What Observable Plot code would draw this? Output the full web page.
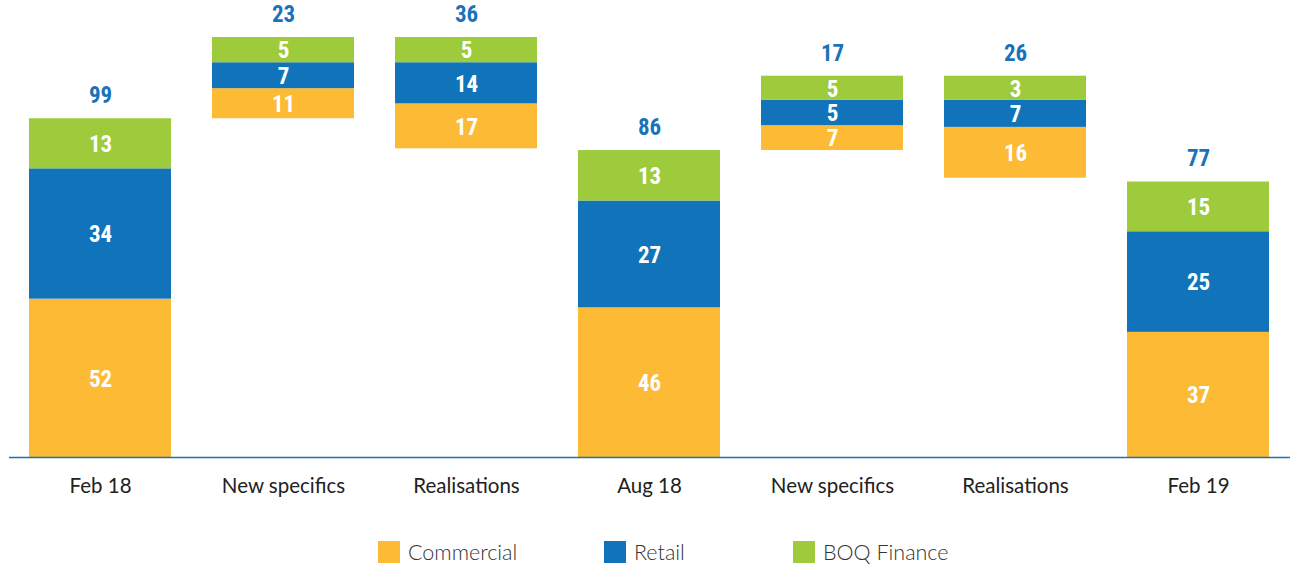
<!DOCTYPE html>
<html>
<head>
<meta charset="utf-8">
<script src="https://cdn.jsdelivr.net/npm/d3@7"></script>
<script src="https://cdn.jsdelivr.net/npm/@observablehq/plot@0.6"></script>
<style>
  html, body { margin: 0; padding: 0; background: #fff; }
  #chart { width: 1290px; }
  #chart svg g[aria-label="text"] text { font-stretch: condensed; }
  .legend { position: relative; height: 49px; font-family: Lato, "Noto Sans", sans-serif; font-size: 21.5px; font-weight: 300; color: #333; }
  .legend .item { position: absolute; top: 21px; display: flex; align-items: center; height: 22px; }
  .legend .sw { width: 22px; height: 22px; margin-right: 8px; }
</style>
</head>
<body>
<div id="chart"></div>
<script>
const categories = ["Feb 18", "New specifics", "Realisations", "Aug 18", "New specifics", "Realisations", "Feb 19"];
const barKinds = ["total", "increase", "decrease", "total", "increase", "decrease", "total"];
const seriesNames = ["Commercial", "Retail", "BOQ Finance"];
// labelled values
const commercial = [52, 11, 17, 46, 7, 16, 37];
const retail = [34, 7, 14, 27, 5, 7, 25];
const boqFinance = [13, 5, 5, 13, 5, 3, 15];
const totals = [99, 23, 36, 86, 17, 26, 77];
// segment sizes as drawn in the picture
const commercialDrawn = [45.8, 8.7, 13.0, 43.3, 7.2, 14.7, 36.2];
const retailDrawn = [37.7, 7.5, 11.9, 30.9, 7.3, 7.8, 29.1];
const boqDrawn = [14.5, 7.3, 7.3, 14.6, 7.0, 7.0, 14.4];
const colors = ["#FDBA35", "#1174BB", "#9DCB3B"];

const labelValues = [commercial, retail, boqFinance];
const drawnValues = [commercialDrawn, retailDrawn, boqDrawn];
const rows = [];
const totalRows = [];
let level = 0;
categories.forEach((c, i) => {
  const size = d3.sum(drawnValues, arr => arr[i]);
  let base;
  if (barKinds[i] === "total") { base = 0; level = size; }
  else if (barKinds[i] === "increase") { base = level; level += size; }
  else { base = level - size; level -= size; }
  let cum = base;
  seriesNames.forEach((s, k) => {
    const v = drawnValues[k][i];
    rows.push({i, series: s, value: labelValues[k][i], y1: cum, y2: cum + v});
    cum += v;
  });
  totalRows.push({i, value: totals[i], top: cum});
});
const yMax = d3.max(totalRows, d => d.top);

const numFont = '"Roboto Condensed", "Liberation Sans Narrow", "DejaVu Sans", sans-serif';

const plot = Plot.plot({
  width: 1290,
  height: 520,
  marginLeft: 9,
  marginRight: 0,
  marginTop: 37,
  marginBottom: 63,
  style: {fontFamily: 'Lato, "Noto Sans", sans-serif', fontSize: "20px", color: "#222", background: "#fff"},
  x: {domain: d3.range(categories.length), range: [8.5, 1289.5], paddingInner: 0.224, paddingOuter: 0.112, axis: null},
  y: {domain: [0, yMax], axis: null},
  color: {domain: seriesNames, range: colors},
  marks: [
    Plot.barY(rows, {x: "i", y1: "y1", y2: "y2", fill: "series"}),
    Plot.text(rows, {x: "i", y: d => (d.y1 + d.y2) / 2, text: d => String(d.value), fill: "white",
      fontSize: 23, fontWeight: "bold", fontFamily: numFont, dy: 1}),
    Plot.text(totalRows, {x: "i", y: "top", text: d => String(d.value), fill: "#1A73B8",
      fontSize: 23, fontWeight: "bold", fontFamily: numFont, dy: -23}),
    Plot.ruleY([0], {stroke: "#1F6FB5", strokeWidth: 1.6}),
    Plot.axisX({tickSize: 0, tickPadding: 20.5, label: null, tickFormat: i => categories[i], fontSize: 20.5, fill: "#222"})
  ]
});
const root = document.getElementById("chart");
root.appendChild(plot);

const legend = document.createElement("div");
legend.className = "legend";
const positions = [378, 604, 793];
seriesNames.forEach((s, k) => {
  const it = document.createElement("div");
  it.className = "item";
  it.style.left = positions[k] + "px";
  const sw = document.createElement("div");
  sw.className = "sw";
  sw.style.background = colors[k];
  const t = document.createElement("span");
  t.textContent = s;
  it.appendChild(sw); it.appendChild(t);
  legend.appendChild(it);
});
root.appendChild(legend);
</script>
</body>
</html>
